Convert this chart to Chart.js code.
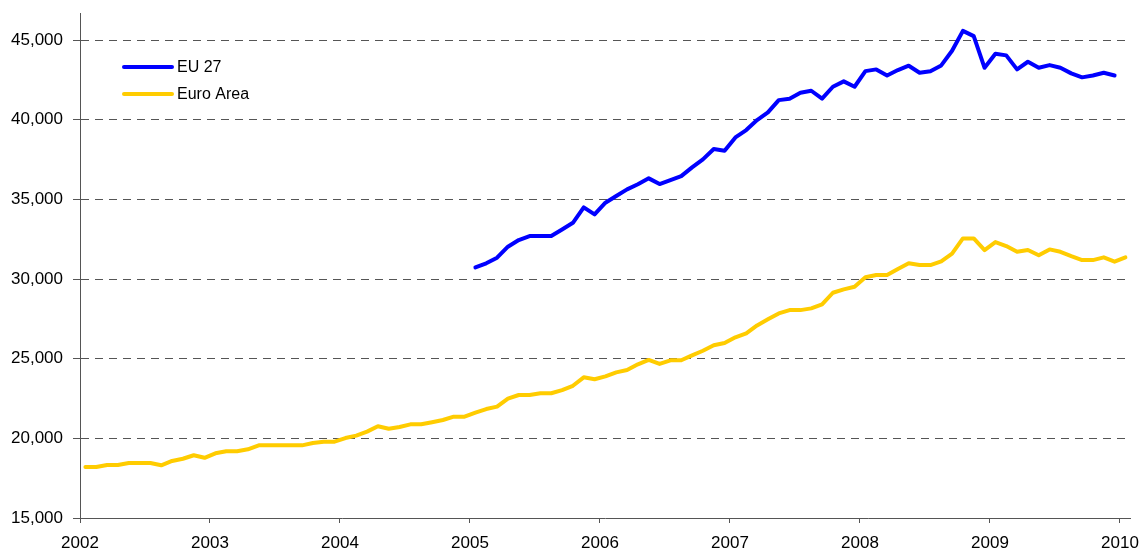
<!DOCTYPE html>
<html>
<head>
<meta charset="utf-8">
<title>EU 27 / Euro Area</title>
<script src="https://cdn.jsdelivr.net/npm/chart.js@4/dist/chart.umd.min.js"></script>
<style>
  html, body { margin: 0; padding: 0; background: #fff; }
  canvas { display: block; }
</style>
</head>
<body>
<canvas id="chart" width="1141" height="550"></canvas>
<script>
// monthly series, Jan 2002 - Jan 2010 (Euro Area), Jan 2005 - Dec 2009 (EU 27)
const yearTicks = [2002, 2003, 2004, 2005, 2006, 2007, 2008, 2009, 2010];
const yTicks = [15000, 20000, 25000, 30000, 35000, 40000, 45000];

const euroAreaStart = 2002;
const euroArea = [
  18200, 18200, 18330, 18330, 18450, 18450, 18450, 18310, 18580, 18720, 18940, 18780,
  19060, 19190, 19190, 19310, 19560, 19560, 19560, 19560, 19560, 19710, 19790, 19790,
  20020, 20170, 20420, 20760, 20600, 20710, 20880, 20880, 21010, 21150, 21360, 21360,
  21610, 21840, 21990, 22490, 22720, 22720, 22830, 22830, 23030, 23300, 23830, 23710,
  23890, 24140, 24290, 24650, 24920, 24670, 24900, 24900, 25210, 25500, 25840, 25980,
  26340, 26590, 27090, 27470, 27840, 28050, 28050, 28160, 28410, 29140, 29350, 29520,
  30110, 30250, 30250, 30630, 30990, 30880, 30880, 31110, 31590, 32550, 32550, 31820,
  32320, 32070, 31710, 31820, 31490, 31860, 31710, 31440, 31190, 31190, 31360, 31090,
  31360
];

const eu27Start = 2005;
const eu27 = [
  30730, 30990, 31340, 32030, 32450, 32700, 32700, 32700, 33110, 33530, 34500, 34060,
  34790, 35210, 35630, 35950, 36320, 35960, 36210, 36460, 37010, 37510, 38160, 38050,
  38890, 39350, 39980, 40460, 41230, 41320, 41690, 41820, 41320, 42070, 42410, 42070,
  43050, 43160, 42780, 43120, 43390, 42950, 43050, 43410, 44330, 45580, 45250, 43260,
  44140, 44040, 43160, 43640, 43260, 43430, 43260, 42910, 42660, 42780, 42950, 42780
];

// month i of a series -> point in the middle of that month
function toPoints(startYear, values) {
  return values.map((v, i) => ({ x: startYear + (i + 0.5) / 12, y: v }));
}

const fmt = v => v.toLocaleString('en-US');

// legend drawn inside the plot, top left
const insideLegend = {
  id: 'insideLegend',
  afterDraw(chart) {
    const ctx = chart.ctx;
    ctx.save();
    ctx.font = '16px "Liberation Sans", Arial, sans-serif';
    ctx.textBaseline = 'middle';
    chart.data.datasets.forEach((ds, i) => {
      const y = 67 + i * 27;
      ctx.strokeStyle = ds.borderColor;
      ctx.lineWidth = 4;
      ctx.lineCap = 'round';
      ctx.beginPath();
      ctx.moveTo(124, y);
      ctx.lineTo(172, y);
      ctx.stroke();
      ctx.fillStyle = '#000';
      ctx.fillText(ds.label, 177, y + 1);
    });
    ctx.restore();
  }
};

new Chart(document.getElementById('chart'), {
  type: 'line',
  data: {
    datasets: [
      {
        label: 'EU 27',
        data: toPoints(eu27Start, eu27),
        borderColor: '#0000ff',
        borderWidth: 4,
        pointRadius: 0,
        tension: 0,
        borderJoinStyle: 'round',
        borderCapStyle: 'round'
      },
      {
        label: 'Euro Area',
        data: toPoints(euroAreaStart, euroArea),
        borderColor: '#ffcc00',
        borderWidth: 4,
        pointRadius: 0,
        tension: 0,
        borderJoinStyle: 'round',
        borderCapStyle: 'round'
      }
    ]
  },
  options: {
    responsive: false,
    animation: false,
    layout: { padding: { top: 13, right: 11, left: 0, bottom: 0 } },
    plugins: {
      legend: { display: false },
      tooltip: { enabled: false }
    },
    scales: {
      x: {
        type: 'linear',
        min: 2002,
        max: 2010.077,
        afterBuildTicks: scale => { scale.ticks = yearTicks.map(v => ({ value: v })); },
        afterFit: scale => {
          scale.height = 32;
          scale.paddingLeft = 0;
          scale.paddingRight = 0;
        },
        ticks: {
          color: '#000',
          padding: 10,
          maxRotation: 0,
          autoSkip: false,
          font: { family: '"Liberation Sans", Arial, sans-serif', size: 17 },
          callback: v => String(v)
        },
        grid: {
          display: true,
          drawOnChartArea: false,
          drawTicks: true,
          tickLength: 5,
          color: '#555'
        },
        border: { display: true, color: '#555', width: 1 }
      },
      y: {
        min: 15000,
        max: 46700,
        afterBuildTicks: scale => { scale.ticks = yTicks.map(v => ({ value: v })); },
        afterFit: scale => {
          scale.width = 80;
          scale.paddingTop = 0;
          scale.paddingBottom = 0;
        },
        ticks: {
          color: '#000',
          padding: 10,
          font: { family: '"Liberation Sans", Arial, sans-serif', size: 17 },
          callback: v => fmt(v)
        },
        grid: {
          color: ctx => (ctx.tick && ctx.tick.value === 15000) ? 'rgba(0,0,0,0)' : '#555',
          tickColor: '#555',
          lineWidth: 1,
          tickLength: 7,
          drawTicks: true
        },
        border: { display: true, color: '#555', width: 1, dash: [8, 6] }
      }
    }
  },
  plugins: [insideLegend]
});
</script>
</body>
</html>
